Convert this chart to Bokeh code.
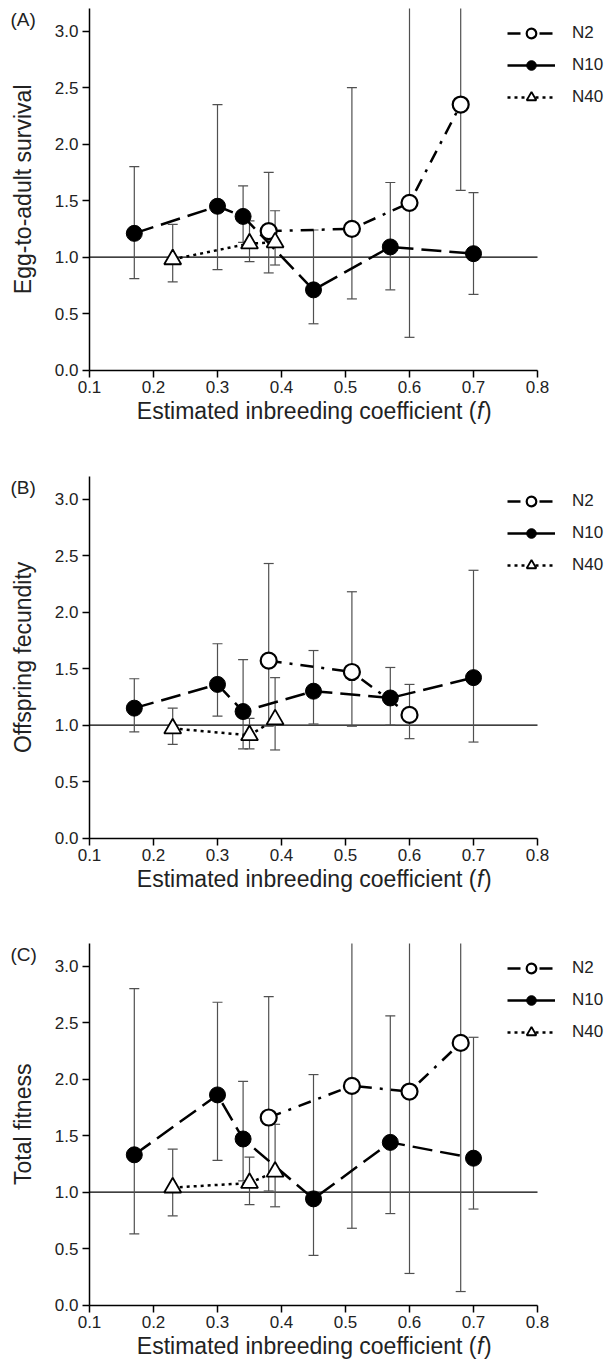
import math
from bokeh.plotting import figure
from bokeh.models import (Range1d, FixedTicker, Label, Legend, LegendItem,
                          ColumnDataSource, NumeralTickFormatter)
from bokeh.layouts import column
from bokeh.embed import file_html
from bokeh.resources import INLINE

# ---------------- data ----------------
x_ticks = [0.1, 0.2, 0.3, 0.4, 0.5, 0.6, 0.7, 0.8]
x_tick_labels = ["0.1", "0.2", "0.3", "0.4", "0.5", "0.6", "0.7", "0.8"]
y_ticks = [0.0, 0.5, 1.0, 1.5, 2.0, 2.5, 3.0]
y_tick_labels = ["0.0", "0.5", "1.0", "1.5", "2.0", "2.5", "3.0"]
x_limits = [0.1, 0.8]
y_limits = [0.0, 3.2]

series_names = ["N2", "N10", "N40"]
panel_letters = ["(A)", "(B)", "(C)"]
panel_ylabels = ["Egg-to-adult survival", "Offspring fecundity", "Total fitness"]
x_title = "Estimated inbreeding coefficient ("
x_title_italic = "f"
x_title_end = ")"

# reference line (relative value = 1) across the x-range
ref_x = [0.1, 0.8]
ref_y = [1.0, 1.0]

f_N10 = [0.17, 0.30, 0.34, 0.45, 0.57, 0.70]
f_N40 = [0.23, 0.35, 0.39]

# (A) Egg-to-adult survival
A_f_N2 = [0.38, 0.51, 0.60, 0.68]
A_N2 = [1.23, 1.25, 1.48, 2.35]
A_N2_lo = [0.86, 0.63, 0.29, 1.59]
A_N2_hi = [1.75, 2.50, 3.50, 3.50]
A_N10 = [1.21, 1.45, 1.36, 0.71, 1.09, 1.03]
A_N10_lo = [0.81, 0.89, 1.13, 0.41, 0.71, 0.67]
A_N10_hi = [1.80, 2.35, 1.63, 1.24, 1.66, 1.57]
A_N40 = [0.98, 1.12, 1.13]
A_N40_lo = [0.78, 0.96, 0.93]
A_N40_hi = [1.29, 1.32, 1.41]

# (B) Offspring fecundity
B_f_N2 = [0.38, 0.51, 0.60]
B_N2 = [1.57, 1.47, 1.09]
B_N2_lo = [0.99, 0.99, 0.88]
B_N2_hi = [2.43, 2.18, 1.36]
B_N10 = [1.15, 1.36, 1.12, 1.30, 1.24, 1.42]
B_N10_lo = [0.94, 1.08, 0.79, 1.01, 1.00, 0.85]
B_N10_hi = [1.41, 1.72, 1.58, 1.66, 1.51, 2.37]
B_N40 = [0.97, 0.91, 1.05]
B_N40_lo = [0.83, 0.79, 0.78]
B_N40_hi = [1.15, 1.06, 1.42]

# (C) Total fitness
C_f_N2 = [0.38, 0.51, 0.60, 0.68]
C_N2 = [1.66, 1.94, 1.89, 2.32]
C_N2_lo = [1.01, 0.68, 0.28, 0.12]
C_N2_hi = [2.73, 3.50, 3.50, 3.50]
C_N10 = [1.33, 1.86, 1.47, 0.94, 1.44, 1.30]
C_N10_lo = [0.63, 1.28, 1.10, 0.44, 0.81, 0.85]
C_N10_hi = [2.80, 2.68, 1.98, 2.04, 2.56, 2.37]
C_N40 = [1.04, 1.08, 1.18]
C_N40_lo = [0.79, 0.89, 0.87]
C_N40_hi = [1.38, 1.31, 1.60]

# ---------------- styling / layout ----------------
FONT = "Liberation Sans"
TXT = "#222222"
ERR = "#505050"
FIG_W = 608
PAD_L, PAD_R = 89, 71           # pixels left of x=0.1 and right of x=0.8
PLOT_H = 361.6                  # pixels for y 0..3.2
TITLE_PX = 23

panels = [
    (panel_letters[0], panel_ylabels[0],
     [(A_f_N2, A_N2, A_N2_lo, A_N2_hi), (f_N10, A_N10, A_N10_lo, A_N10_hi), (f_N40, A_N40, A_N40_lo, A_N40_hi)],
     472, 8),
    (panel_letters[1], panel_ylabels[1],
     [(B_f_N2, B_N2, B_N2_lo, B_N2_hi), (f_N10, B_N10, B_N10_lo, B_N10_hi), (f_N40, B_N40, B_N40_lo, B_N40_hi)],
     467, 4),
    (panel_letters[2], panel_ylabels[2],
     [(C_f_N2, C_N2, C_N2_lo, C_N2_hi), (f_N10, C_N10, C_N10_lo, C_N10_hi), (f_N40, C_N40, C_N40_lo, C_N40_hi)],
     429, 4),
]

line_styles = {
    "N2": dict(line_dash="13 8 3 8", line_width=2.5),
    "N10": dict(line_dash="20 8", line_width=2.5),
    "N40": dict(line_dash="3 4", line_width=2.5),
}
marker_styles = {
    "N2": dict(marker="circle", size=16, fill_color="white", line_color="black", line_width=2.2),
    "N10": dict(marker="circle", size=16, fill_color="black", line_color="black", line_width=1),
    "N40": dict(marker="triangle", size=17, fill_color="white", line_color="black", line_width=1.8),
}


def make_panel(letter, ylabel, data, fig_h, top_pad):
    x_ppu = (FIG_W - PAD_L - PAD_R) / (x_limits[1] - x_limits[0])
    y_ppu = PLOT_H / (y_limits[1] - y_limits[0])
    bottom_pad = fig_h - top_pad - PLOT_H
    xr = Range1d(x_limits[0] - PAD_L / x_ppu, x_limits[1] + PAD_R / x_ppu)
    yr = Range1d(y_limits[0] - bottom_pad / y_ppu, y_limits[1] + top_pad / y_ppu)

    p = figure(frame_width=FIG_W, frame_height=fig_h, x_range=xr, y_range=yr,
               output_backend="svg", toolbar_location=None,
               min_border_left=0, min_border_right=0,
               min_border_top=0, min_border_bottom=0)
    p.outline_line_color = None
    p.xgrid.visible = False
    p.ygrid.visible = False
    p.background_fill_color = "white"
    p.border_fill_color = "white"

    p.xaxis.fixed_location = y_limits[0]
    p.yaxis.fixed_location = x_limits[0]
    p.xaxis.bounds = (x_limits[0], x_limits[1])
    p.yaxis.bounds = (y_limits[0], y_limits[1])
    p.xaxis.ticker = FixedTicker(ticks=x_ticks)
    p.xaxis.formatter = NumeralTickFormatter(format="0.0")
    p.xaxis.major_label_overrides = {t: l for t, l in zip(x_ticks, x_tick_labels)}
    p.yaxis.ticker = FixedTicker(ticks=y_ticks)
    p.yaxis.formatter = NumeralTickFormatter(format="0.0")
    p.yaxis.major_label_overrides = {t: l for t, l in zip(y_ticks, y_tick_labels)}
    for ax in (p.xaxis[0], p.yaxis[0]):
        ax.axis_line_color = "black"
        ax.axis_line_width = 1.5
        ax.major_tick_line_color = "black"
        ax.major_tick_line_width = 1.5
        ax.major_tick_out = 7
        ax.major_tick_in = 0
        ax.minor_tick_line_color = None
        ax.major_label_text_font = FONT
        ax.major_label_text_font_size = "17px"
        ax.major_label_text_color = TXT
        ax.major_label_standoff = 4

    # reference line at relative value 1
    p.segment(x0=ref_x[0], y0=ref_y[0], x1=ref_x[1], y1=ref_y[1],
              line_color="black", line_width=1.3)

    sources = []
    for (f, y, lo, hi) in data:
        sources.append(ColumnDataSource(dict(f=f, y=y, lo=lo, hi=hi)))

    # error bars (clipped at top of axis; no cap when off-scale)
    for src in sources:
        f = src.data["f"]
        hi_c = [min(h, y_limits[1]) for h in src.data["hi"]]
        cap_hi = [h if h <= y_limits[1] else float("nan") for h in src.data["hi"]]
        esrc = ColumnDataSource(dict(f=f, lo=src.data["lo"], hi=hi_c, cap=cap_hi))
        p.segment(x0="f", y0="lo", x1="f", y1="hi", source=esrc,
                  line_color=ERR, line_width=1.2)
        p.scatter(x="f", y="cap", source=esrc, marker="dash", size=10,
                  line_color=ERR, line_width=1.2)
        p.scatter(x="f", y="lo", source=esrc, marker="dash", size=10,
                  line_color=ERR, line_width=1.2)

    items = []
    for name, src in zip(series_names, sources):
        lr = p.line(x="f", y="y", source=src, line_color="black", **line_styles[name])
        mr = p.scatter(x="f", y="y", source=src, **marker_styles[name])
        items.append(LegendItem(label=name, renderers=[lr, mr]))

    leg_h = 3 * 24 + 2 * 8
    legend = Legend(items=items, location=(PAD_L + 418, fig_h - top_pad - 13 - leg_h),
                    label_text_font=FONT, label_text_font_size="17px",
                    label_text_color=TXT,
                    glyph_width=48, glyph_height=24, label_height=24,
                    spacing=8, padding=0, margin=0, label_standoff=17,
                    border_line_color=None, background_fill_alpha=0)
    p.add_layout(legend)

    # panel letter
    p.add_layout(Label(x=x_limits[0], y=y_limits[1], x_offset=-79, y_offset=-11, text=letter,
                       text_baseline="middle", text_align="left",
                       text_font=FONT, text_font_size="19px", text_color=TXT))
    # y-axis title
    p.add_layout(Label(x=x_limits[0], y=(y_limits[0] + y_limits[1]) / 2, x_offset=-67,
                       text=ylabel, angle=math.pi / 2,
                       text_baseline="middle", text_align="center",
                       text_font=FONT, text_font_size=f"{TITLE_PX}px", text_color=TXT))
    # x-axis title (with italic f)
    cx = (x_limits[0] + x_limits[1]) / 2
    p.add_layout(Label(x=cx, y=y_limits[0], x_offset=163, y_offset=-28, text=x_title,
                       text_baseline="top", text_align="right",
                       text_font=FONT, text_font_size=f"{TITLE_PX}px", text_color=TXT))
    p.add_layout(Label(x=cx, y=y_limits[0], x_offset=163.5, y_offset=-28, text=x_title_italic,
                       text_baseline="top", text_align="left", text_font_style="italic",
                       text_font=FONT, text_font_size=f"{TITLE_PX}px", text_color=TXT))
    p.add_layout(Label(x=cx, y=y_limits[0], x_offset=170.5, y_offset=-28, text=x_title_end,
                       text_baseline="top", text_align="left",
                       text_font=FONT, text_font_size=f"{TITLE_PX}px", text_color=TXT))
    return p


figs = [make_panel(*pan) for pan in panels]
layout = column(*figs, spacing=0)

open("out.html", "w").write(file_html(layout, INLINE))
